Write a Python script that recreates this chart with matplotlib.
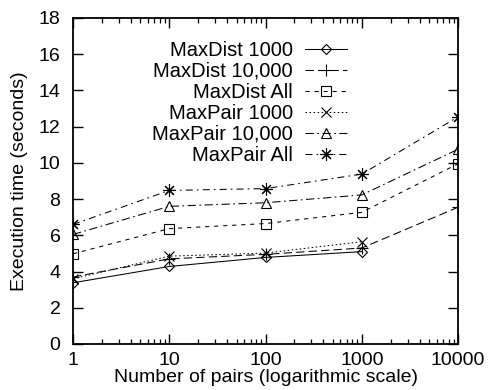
import matplotlib
matplotlib.use("Agg")
import matplotlib.pyplot as plt
from matplotlib.ticker import LogLocator, NullFormatter, FixedLocator

plt.rcParams['font.family'] = ['Liberation Sans', 'DejaVu Sans']
plt.rcParams['lines.scale_dashes'] = False

pairs = [1, 10, 100, 1000, 10000]
series_names = ["MaxDist 1000", "MaxDist 10,000", "MaxDist All",
                "MaxPair 1000", "MaxPair 10,000", "MaxPair All"]
maxdist_1000 = [3.38, 4.28, 4.78, 5.1]
maxdist_10000 = [3.7, 4.7, 4.95, 5.3, 7.55]
maxdist_all = [4.98, 6.37, 6.65, 7.27, 9.95]
maxpair_1000 = [3.6, 4.85, 5.02, 5.65]
maxpair_10000 = [6.05, 7.6, 7.8, 8.23, 10.75]
maxpair_all = [6.6, 8.48, 8.58, 9.38, 12.54]
yticks = [0, 2, 4, 6, 8, 10, 12, 14, 16, 18]
xtick_labels = ["1", "10", "100", "1000", "10000"]

values = [maxdist_1000, maxdist_10000, maxdist_all,
          maxpair_1000, maxpair_10000, maxpair_all]
markers = ['D', '+', 's', 'x', '^', (8, 2, 0)]
msizes = [5, 8, 6.5, 7, 7, 9]
styles = ['-', (0, (6, 3)), (0, (3, 3.5)), (0, (1.1, 1.8)),
          (0, (6, 2.5, 1.2, 2.5)), (0, (5, 3, 1.2, 3))]

FS = 14
fig = plt.figure(figsize=(4.88, 3.9), dpi=100)
ax = fig.add_axes([73/488, 1-344/390, (458-73)/488, (344-18)/390])

for name, vals, m, ms, ls in zip(series_names, values, markers, msizes, styles):
    ax.plot(pairs[:len(vals)], vals, color='black', linewidth=0.75,
            linestyle=ls, marker=m, markersize=ms, markerfacecolor='none',
            markeredgecolor='black', markeredgewidth=0.8, label=name)

ax.set_xscale('log')
ax.set_xlim(1, 10000)
ax.set_ylim(0, 18)
ax.xaxis.set_major_locator(FixedLocator(pairs))
ax.set_xticklabels(xtick_labels)
ax.xaxis.set_minor_locator(LogLocator(base=10, subs=range(2, 10)))
ax.xaxis.set_minor_formatter(NullFormatter())
ax.set_yticks(yticks)

for s in ax.spines.values():
    s.set_linewidth(1.3)
ax.tick_params(axis='both', which='major', direction='in', length=7, width=1.0,
               top=True, right=True, labelsize=FS)
ax.tick_params(axis='x', which='major', pad=6)
ax.tick_params(axis='x', which='minor', direction='in', length=3.5, width=0.9,
               top=True, bottom=True)
ax.tick_params(axis='y', which='major', pad=9)

ax.set_xlabel("Number of pairs (logarithmic scale)", fontsize=FS, labelpad=0)
ax.set_ylabel("Execution time (seconds)", fontsize=FS, labelpad=8)

leg = ax.legend(loc='upper right', bbox_to_anchor=(0.712, 0.93),
                markerfirst=False, frameon=False, fontsize=14.5,
                handlelength=2.1, handletextpad=0.6, labelspacing=0.1,
                borderaxespad=0, borderpad=0)

fig.savefig("out.png", dpi=100)
